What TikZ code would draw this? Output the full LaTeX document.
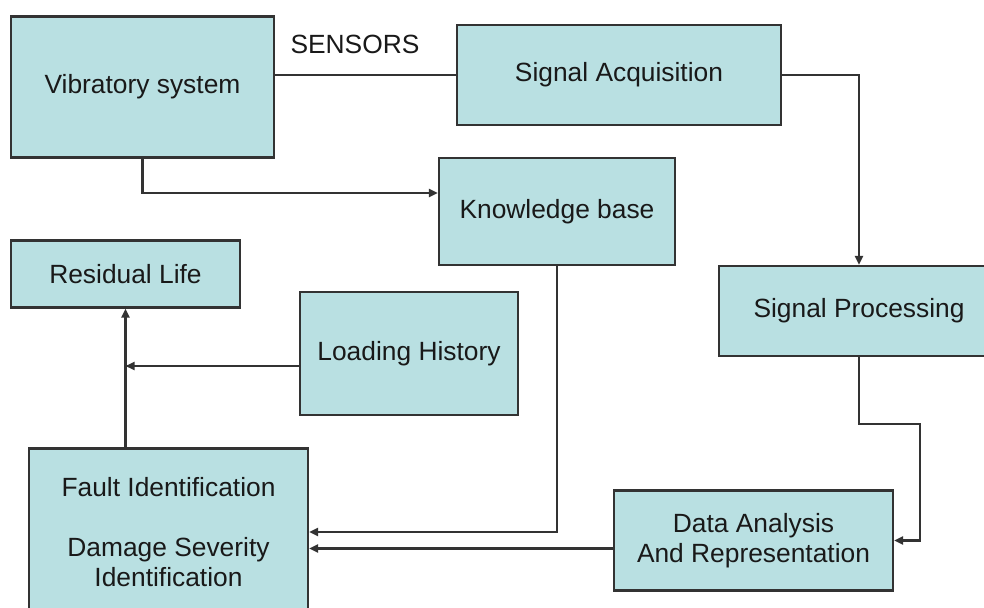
\documentclass[tikz,border=0pt]{standalone}
\usepackage{fontspec}
\setmainfont{Liberation Sans}
\usetikzlibrary{arrows.meta}
\definecolor{cyanbox}{HTML}{B9E0E2}
\definecolor{edge}{HTML}{333333}

\begin{document}
\begin{tikzpicture}[x=1cm, y=1cm, >={Triangle[length=1.8mm, width=1.6mm]},
  block/.style={draw=edge, line width=1.2pt, fill=cyanbox, align=center,
    text=black!90, font=\fontsize{15}{17}\selectfont, inner sep=0pt},
  link/.style={draw=edge, line width=1.2pt}]
\useasboundingbox (0,0) rectangle (19.68,12.14);
\node[block, minimum width=5.26cm, minimum height=2.82cm] (vib) at (2.85,10.40) {Vibratory system};
\node[block, minimum width=6.48cm, minimum height=2.00cm] (acq) at (12.38,10.64) {Signal Acquisition};
\node[block, minimum width=4.72cm, minimum height=2.14cm] (know) at (11.14,7.91) {Knowledge base};
\node[block, minimum width=5.60cm, minimum height=1.80cm] (proc) at (17.18,5.92) {Signal Processing};
\node[block, minimum width=4.58cm, minimum height=1.34cm] (life) at (2.51,6.66) {Residual Life};
\node[block, minimum width=4.36cm, minimum height=2.46cm] (load) at (8.18,5.07) {Loading History};
\node[block, minimum width=5.58cm, minimum height=3.34cm] (fault) at (3.37,1.50)
  {Fault Identification\\[0.6cm] Damage Severity\\ Identification};
\node[block, minimum width=5.58cm, minimum height=2.00cm] (data) at (15.07,1.33)
  {Data Analysis\\ And Representation};
\node[text=black!90, font=\fontsize{15}{17}\selectfont] (sens) at (7.10,11.26) {SENSORS};

\coordinate (knowin) at ([yshift=3.7mm]know.west);
\coordinate (knowout) at (know.south);
\coordinate (dataout) at ([yshift=-1.6mm]data.west);
\coordinate (loadout) at ([yshift=-2.5mm]load.west);

\draw[link] (vib.east |- acq.west) -- (acq.west);
\draw[link, ->] (vib.south) |- (knowin);
\draw[link, ->] (acq.east) -| (proc.north);
\draw[link, ->] (proc.south) -- ++(0,-1.34) -| ([xshift=5.2mm]data.east) -- (data.east);
\draw[link, ->] (knowout) |- (fault.east);
\draw[link, ->] (dataout) -- (dataout -| fault.east);
\draw[link, ->] (life.south |- fault.north) -- (life.south);
\draw[link, ->] (loadout) -- (loadout -| life.south);
\end{tikzpicture}
\end{document}
